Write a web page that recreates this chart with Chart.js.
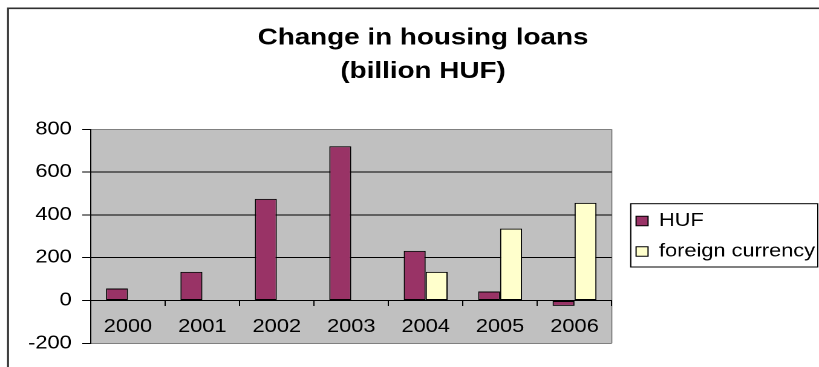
<!DOCTYPE html>
<html>
<head>
<meta charset="utf-8">
<script src="https://cdn.jsdelivr.net/npm/chart.js@4"></script>
<style>
  html, body { margin: 0; padding: 0; background: #fff; overflow: hidden; }
  /* the reference is drawn horizontally stretched, so draw narrow and widen */
  #wrap { width: 677px; height: 367px; transform: scaleX(1.2097); transform-origin: 0 0; }
</style>
</head>
<body>
<div id="wrap"><canvas id="loansChart" width="677" height="367"></canvas></div>
<script>
const years = ['2000', '2001', '2002', '2003', '2004', '2005', '2006'];
const hufValues = [56, 134, 475, 721, 232, 42, -25];
const foreignValues = [null, null, null, null, 134, 336, 456];
const yTicks = [-200, 0, 200, 400, 600, 800];

const FONT = "'Liberation Sans', Arial, sans-serif";

const framePlugin = {
    id: 'frame',
    afterLayout(chart) {
        // title is centred on the whole (cropped) frame, not the canvas
        const t = chart.titleBlock;
        const shift = 349.7 - (t.left + t.right) / 2;
        t.left += shift;
        t.right += shift;
        // move the legend to where the reference has it
        const lg = chart.legend;
        const pad = lg.options.labels.padding;
        const w = lg.width, h = lg.height;
        lg.left = 513.3;
        lg.right = lg.left + w;
        const colH = lg.columnSizes[0].height;
        const sum = 2 * 212 - pad + colH;
        lg.top = (sum - h) / 2;
        lg.bottom = lg.top + h;
    },
    beforeDraw(chart) {
        const ctx = chart.ctx;
        const a = chart.chartArea;
        ctx.save();
        ctx.fillStyle = '#c0c0c0';
        ctx.fillRect(a.left, a.top, a.right - a.left, a.bottom - a.top);
        ctx.strokeStyle = '#808080';
        ctx.lineWidth = 1;
        ctx.beginPath();
        ctx.moveTo(a.right, a.top);
        ctx.lineTo(a.right, a.bottom);
        ctx.stroke();
        // outer chart frame (cut off at right and bottom)
        ctx.strokeStyle = '#303030';
        ctx.lineWidth = 1.6;
        ctx.beginPath();
        ctx.moveTo(6.6, 367);
        ctx.lineTo(6.6, 8.3);
        ctx.lineTo(677, 8.3);
        ctx.stroke();
        ctx.restore();
    },
    afterDraw(chart) {
        const ctx = chart.ctx;
        const lg = chart.legend;
        const x0 = lg.left + lg.options.labels.padding - 4.4;
        ctx.save();
        ctx.strokeStyle = '#000';
        ctx.lineWidth = 1;
        ctx.strokeRect(x0, 203.7, 676 - x0, 267 - 203.7);
        ctx.restore();
    }
};

const ctx = document.getElementById('loansChart').getContext('2d');
new Chart(ctx, {
    type: 'bar',
    data: {
        labels: years,
        datasets: [{
            label: 'HUF',
            data: hufValues,
            backgroundColor: '#993366',
            borderColor: '#000',
            borderWidth: 1,
            borderSkipped: false
        }, {
            label: 'foreign currency',
            data: foreignValues,
            backgroundColor: '#ffffcc',
            borderColor: '#000',
            borderWidth: 1,
            borderSkipped: false
        }]
    },
    options: {
        responsive: false,
        devicePixelRatio: 2,
        animation: false,
        events: [],
        categoryPercentage: 0.59,
        barPercentage: 1,
        layout: {
            padding: { top: 0, left: 10, right: 6.3, bottom: 23.7 }
        },
        plugins: {
            title: {
                display: true,
                text: ['Change in housing loans', '(billion HUF)'],
                color: '#000',
                font: { family: FONT, size: 23, weight: 'bold', lineHeight: 1.4565 },
                padding: { top: 21.25, bottom: 41.05 }
            },
            legend: {
                position: 'right',
                fullSize: false,
                maxWidth: 165,
                labels: {
                    color: '#000',
                    font: { family: FONT, size: 18 },
                    boxWidth: 9.9,
                    boxHeight: 9.5,
                    padding: 12.5
                }
            },
            tooltip: { enabled: false }
        },
        scales: {
            x: {
                position: { y: 0 },
                grid: {
                    drawOnChartArea: false,
                    color: '#000',
                    tickLength: 5,
                    offset: true
                },
                border: { color: '#000', width: 1 },
                ticks: {
                    color: '#000',
                    font: { family: FONT, size: 18 },
                    padding: 10.7,
                    maxRotation: 0
                }
            },
            y: {
                min: yTicks[0],
                max: yTicks[yTicks.length - 1],
                afterFit(scale) { scale.width = 65; },
                grid: {
                    color: function(c) {
                        const v = c.tick ? c.tick.value : null;
                        return (v === yTicks[0] || v === yTicks[yTicks.length - 1]) ? '#808080' : '#000';
                    },
                    tickColor: '#000',
                    tickLength: 7
                },
                border: { color: '#000', width: 1 },
                ticks: {
                    stepSize: yTicks[1] - yTicks[0],
                    color: '#000',
                    font: { family: FONT, size: 18 },
                    padding: 8.7
                }
            }
        }
    },
    plugins: [framePlugin]
});
</script>
</body>
</html>
